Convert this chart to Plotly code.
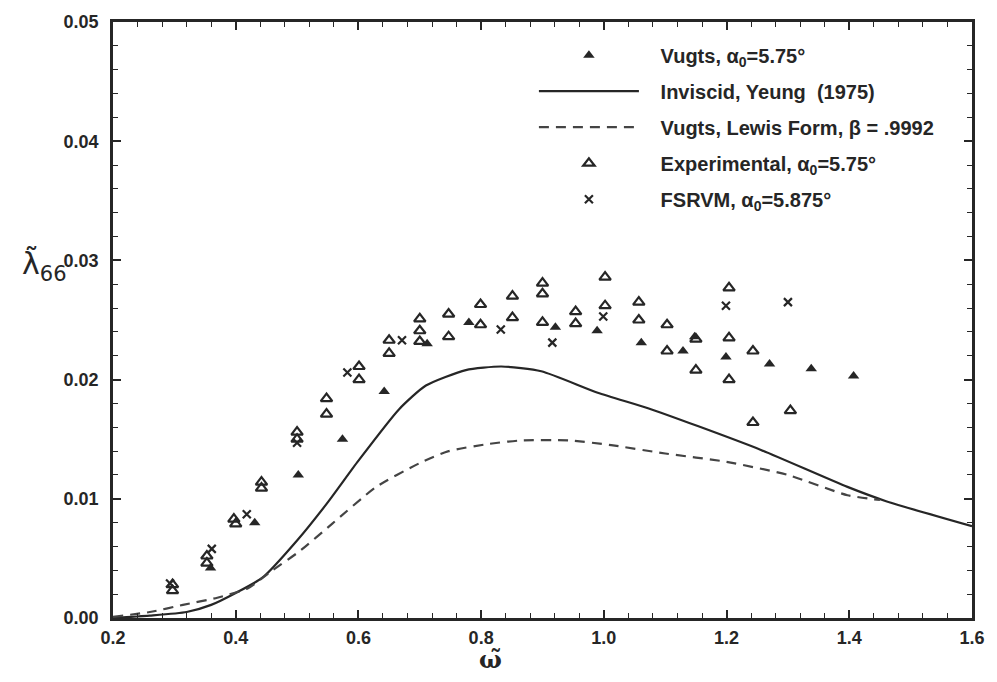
import plotly.graph_objects as go

# Vugts measurements, alpha_0 = 5.75 deg (filled triangles)
vugts_w = [0.359, 0.431, 0.502, 0.574, 0.642, 0.712, 0.780, 0.921, 0.989,
           1.061, 1.129, 1.148, 1.199, 1.270, 1.338, 1.407]
vugts_l = [0.0042, 0.0080, 0.0120, 0.0150, 0.0190, 0.0230, 0.0248, 0.0244, 0.0241,
           0.0231, 0.0224, 0.0236, 0.0219, 0.0213, 0.0209, 0.0203]

# Inviscid theory, Yeung (1975)
yeung_w = [0.20, 0.26, 0.32, 0.36, 0.40, 0.444, 0.50, 0.55, 0.60, 0.666, 0.71, 0.775,
           0.833, 0.898, 0.99, 1.072, 1.153, 1.256, 1.397, 1.46, 1.60]
yeung_l = [0.0000, 0.0002, 0.0005, 0.0011, 0.0021, 0.0034, 0.0065, 0.0097, 0.0132,
           0.0175, 0.0195, 0.0208, 0.0211, 0.0207, 0.0189, 0.0176, 0.0161, 0.0141,
           0.0110, 0.0098, 0.0077]

# Lewis form, beta = .9992
lewis_w = [0.20, 0.26, 0.314, 0.37, 0.42, 0.46, 0.504, 0.557, 0.629, 0.70, 0.747,
           0.812, 0.866, 0.942, 1.012, 1.10, 1.20, 1.30, 1.397, 1.45]
lewis_l = [0.0001, 0.0005, 0.0011, 0.0017, 0.0025, 0.0040, 0.0056, 0.0079, 0.0110,
           0.0130, 0.0140, 0.0146, 0.0149, 0.0149, 0.0145, 0.0138, 0.0131, 0.0120,
           0.0103, 0.0099]

# Experimental, alpha_0 = 5.75 deg (open triangles)
exp_w = [0.297, 0.297, 0.353, 0.353, 0.397, 0.400, 0.442, 0.442, 0.500, 0.500,
         0.548, 0.548, 0.601, 0.601, 0.650, 0.650, 0.700, 0.700, 0.700, 0.747, 0.747,
         0.799, 0.799, 0.851, 0.851, 0.900, 0.900, 0.900, 0.954, 0.954, 1.002, 1.002,
         1.057, 1.057, 1.103, 1.103, 1.150, 1.150, 1.204, 1.204, 1.204, 1.243, 1.243,
         1.304]
exp_l = [0.0028, 0.0023, 0.0052, 0.0046, 0.0083, 0.0079, 0.0114, 0.0109, 0.0156, 0.0150,
         0.0184, 0.0171, 0.0211, 0.0200, 0.0233, 0.0222, 0.0251, 0.0241, 0.0232, 0.0255, 0.0236,
         0.0263, 0.0246, 0.0270, 0.0252, 0.0281, 0.0272, 0.0248, 0.0257, 0.0247, 0.0286, 0.0262,
         0.0265, 0.0250, 0.0246, 0.0224, 0.0234, 0.0208, 0.0277, 0.0235, 0.0200, 0.0224, 0.0164,
         0.0174]

# FSRVM, alpha_0 = 5.875 deg (crosses)
fsrvm_w = [0.293, 0.361, 0.418, 0.500, 0.582, 0.671, 0.832, 0.916, 0.999, 1.199, 1.300]
fsrvm_l = [0.0029, 0.0058, 0.0087, 0.0147, 0.0206, 0.0233, 0.0242, 0.0231, 0.0253,
           0.0262, 0.0265]

x_ticks = [0.2, 0.4, 0.6, 0.8, 1.0, 1.2, 1.4, 1.6]
y_ticks = [0.00, 0.01, 0.02, 0.03, 0.04, 0.05]

INK = "#262626"
FONT = "Liberation Sans, Arial, Helvetica, sans-serif"
PAD = "\u00a0\u00a0\u00a0"  # gap between legend sample and label

fig = go.Figure()
fig.add_trace(go.Scatter(
    x=vugts_w, y=vugts_l, mode="markers", name=PAD + "Vugts, α<sub>0</sub>=5.75°",
    legendgroup="a",
    marker=dict(symbol="triangle-up", size=10, color=INK)))
fig.add_trace(go.Scatter(
    x=yeung_w, y=yeung_l, mode="lines", name=PAD + "Inviscid, Yeung  (1975)",
    legendgroup="b", line=dict(color=INK, width=2.2, shape="spline", smoothing=0.6)))
fig.add_trace(go.Scatter(
    x=lewis_w, y=lewis_l, mode="lines", name=PAD + "Vugts, Lewis Form, β = .9992",
    legendgroup="c",
    line=dict(color="#444444", width=2.2, dash="10px,7px", shape="spline", smoothing=0.6)))
fig.add_trace(go.Scatter(
    x=exp_w, y=exp_l, mode="markers", name=PAD + "Experimental, α<sub>0</sub>=5.75°",
    legendgroup="d",
    marker=dict(symbol="triangle-up-open", size=10, color=INK, line=dict(width=2.2, color=INK))))
fig.add_trace(go.Scatter(
    x=fsrvm_w, y=fsrvm_l, mode="markers", name=PAD + "FSRVM, α<sub>0</sub>=5.875°",
    legendgroup="e",
    marker=dict(symbol="x-thin-open", size=8, color=INK, line=dict(width=2.2, color=INK))))

axis_common = dict(
    showline=True, linecolor=INK, linewidth=2.5, mirror="allticks",
    ticks="inside", ticklen=8, tickwidth=1.5, tickcolor=INK,
    showgrid=False, zeroline=False,
    tickfont=dict(family=FONT, size=18, color=INK, weight="bold"),
)

fig.update_xaxes(range=[0.2, 1.6], tickvals=x_ticks,
                 ticktext=[f"{v:.1f}" for v in x_ticks], ticklabelstandoff=2,
                 minor=dict(ticks="inside", dtick=0.04, tick0=0.2, ticklen=5,
                            tickwidth=1.2, tickcolor=INK),
                 **axis_common)
fig.update_yaxes(range=[0.0, 0.05], tickvals=y_ticks,
                 ticktext=[f"{v:.2f}" for v in y_ticks], ticklabelstandoff=8,
                 minor=dict(ticks="inside", dtick=0.002, tick0=0.0, ticklen=5,
                            tickwidth=1.2, tickcolor=INK),
                 **axis_common)

fig.add_annotation(text="λ̃<sub>66</sub>", xref="paper", yref="paper",
                   x=-0.108, y=0.59, xanchor="left", yanchor="middle", showarrow=False,
                   font=dict(family="DejaVu Sans, sans-serif", size=30, color=INK))
fig.add_annotation(text="ω̃", xref="paper", yref="paper",
                   x=0.44, y=-0.069, xanchor="center", yanchor="middle", showarrow=False,
                   font=dict(family="DejaVu Serif, serif", size=24, color=INK, weight="bold"))

fig.update_layout(
    width=997, height=682,
    margin=dict(l=113, r=22, t=14, b=64),
    paper_bgcolor="white", plot_bgcolor="white",
    showlegend=True,
    legend=dict(x=0.49, y=0.977, xanchor="left", yanchor="top",
                bgcolor="rgba(0,0,0,0)", itemwidth=100, tracegroupgap=7,
                font=dict(family=FONT, size=20, color=INK, weight="bold")),
)

fig.write_html("out.html")
